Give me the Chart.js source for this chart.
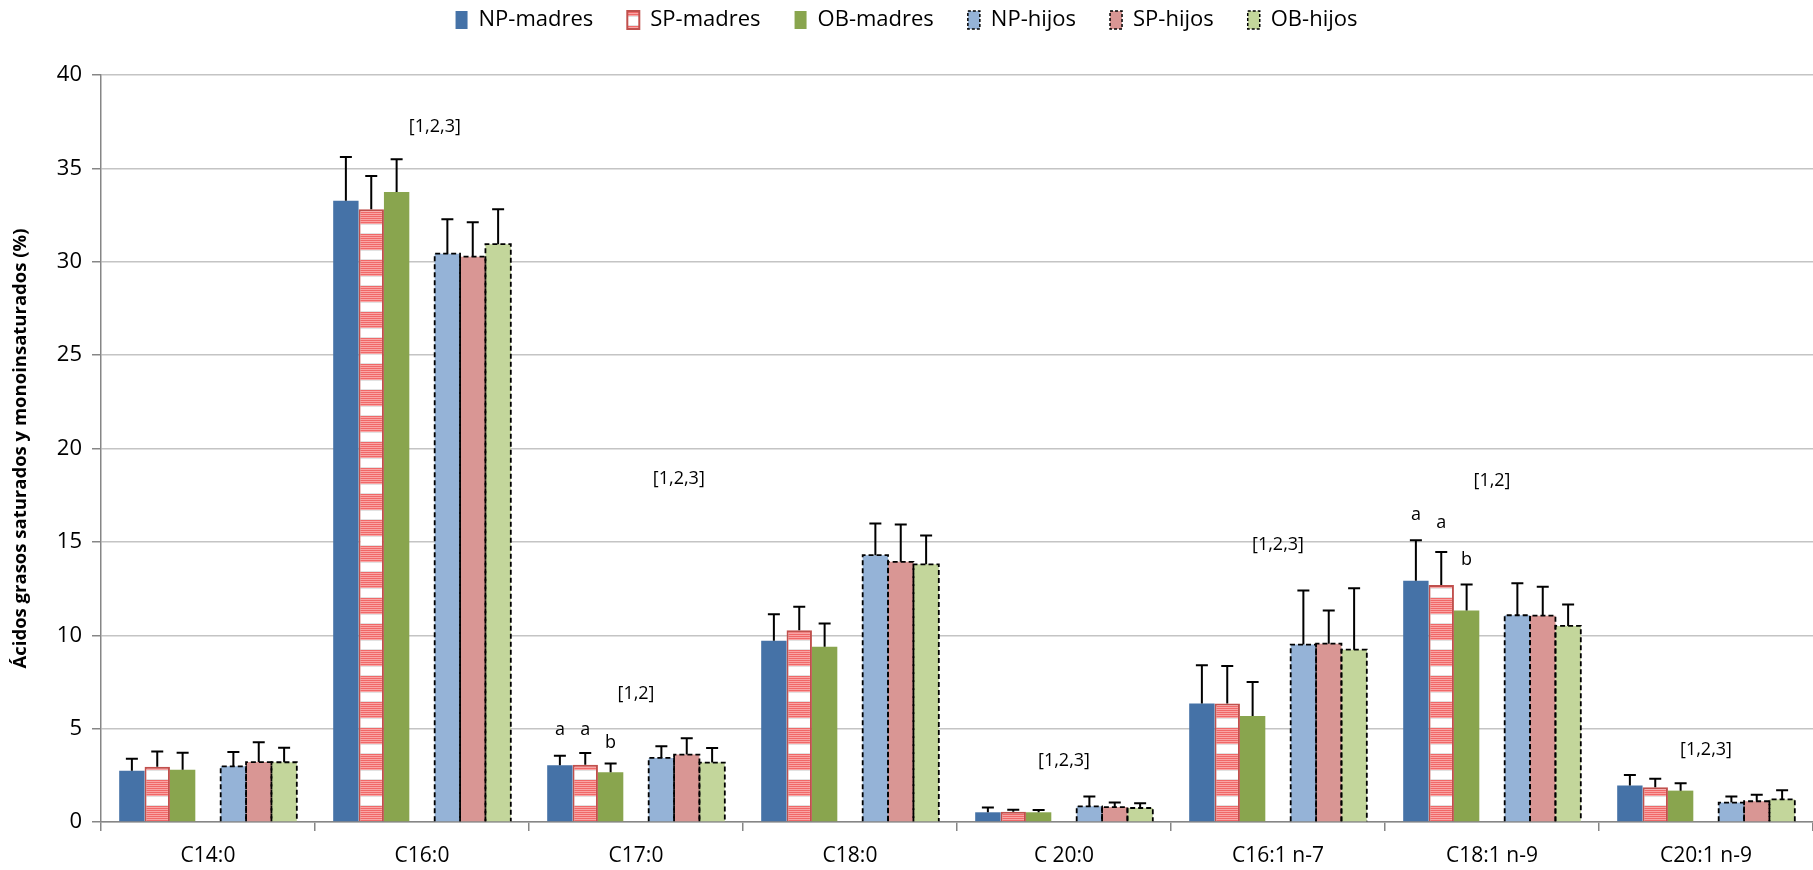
<!DOCTYPE html>
<html>
<head>
<meta charset="utf-8">
<script src="https://cdn.jsdelivr.net/npm/chart.js@4.4.1/dist/chart.umd.min.js"></script>
<style>
    html, body { margin: 0; padding: 0; background: #fff; }
</style>
</head>
<body>
<canvas id="grafikAcidos" width="1813" height="870"></canvas>
<script>
const categories = ['C14:0', 'C16:0', 'C17:0', 'C18:0', 'C 20:0', 'C16:1 n-7', 'C18:1 n-9', 'C20:1 n-9'];

const npMadres = [2.75, 33.26, 3.04, 9.70, 0.52, 6.35, 12.92, 1.95];
const spMadres = [2.96, 32.81, 3.07, 10.27, 0.55, 6.35, 12.69, 1.86];
const obMadres = [2.80, 33.73, 2.66, 9.38, 0.52, 5.67, 11.33, 1.68];
const npHijos = [2.98, 30.43, 3.43, 14.29, 0.84, 9.50, 11.07, 1.04];
const spHijos = [3.21, 30.27, 3.61, 13.93, 0.80, 9.55, 11.05, 1.11];
const obHijos = [3.20, 30.94, 3.18, 13.80, 0.75, 9.23, 10.50, 1.21];

// desviaciones (solo se dibuja la parte superior)
const npMadresSd = [0.64, 2.35, 0.51, 1.43, 0.25, 2.05, 2.17, 0.57];
const spMadresSd = [0.81, 1.78, 0.63, 1.25, 0.11, 2.00, 1.77, 0.46];
const obMadresSd = [0.91, 1.76, 0.47, 1.25, 0.12, 1.82, 1.39, 0.39];
const npHijosSd = [0.77, 1.84, 0.62, 1.69, 0.52, 2.90, 1.72, 0.32];
const spHijosSd = [1.06, 1.84, 0.87, 2.00, 0.25, 1.78, 1.55, 0.35];
const obHijosSd = [0.78, 1.87, 0.78, 1.54, 0.25, 3.29, 1.15, 0.49];

const yTicks = [0, 5, 10, 15, 20, 25, 30, 35, 40];

// notas de significacion
const noteTexts = ['[1,2,3]', '[1,2]', '[1,2,3]', '[1,2,3]', '[1,2,3]', '[1,2]', '[1,2,3]'];
const noteCats = [1.06, 2.0, 2.2, 4.0, 5.0, 6.0, 7.0];
const noteValues = [37.2, 6.85, 18.4, 3.27, 14.86, 18.24, 3.84];

const letterTexts = ['a', 'a', 'b', 'a', 'a', 'b'];
const letterCats = [2, 2, 2, 6, 6, 6];
const letterSeries = [0, 1, 2, 0, 1, 2];
const letterValues = [4.91, 4.93, 4.26, 16.42, 16.01, 14.02];

const FONT = "'Open Sans', 'DejaVu Sans', sans-serif";

const canvas = document.getElementById('grafikAcidos');
const ctx = canvas.getContext('2d');

function makeStripes() {
    const c = document.createElement('canvas');
    c.width = 8;
    c.height = 26;
    const g = c.getContext('2d');
    g.fillStyle = '#ffffff';
    g.fillRect(0, 0, 8, 26);
    for (let r = 0; r < 16; r++) {
        g.fillStyle = r % 2 ? '#F9A5A5' : '#F06868';
        g.fillRect(0, r, 8, 1);
    }
    g.fillStyle = '#E2E2E2';
    g.fillRect(0, 16, 8, 1);
    g.fillRect(0, 25, 8, 1);
    return ctx.createPattern(c, 'repeat');
}
const stripes = makeStripes();

const errorBars = {
    id: 'errorBars',
    afterDatasetsDraw(chart) {
        const c = chart.ctx;
        const yScale = chart.scales.y;
        c.save();
        // bordes discontinuos de hijos
        c.strokeStyle = '#000';
        c.lineWidth = 1.8;
        c.setLineDash([5, 3]);
        chart.data.datasets.forEach((ds, i) => {
            if (!ds.dashed) return;
            chart.getDatasetMeta(i).data.forEach(bar => {
                const p = bar.getProps(['x', 'y', 'base', 'width'], true);
                const l = p.x - p.width / 2, r = p.x + p.width / 2;
                c.beginPath();
                c.moveTo(l, p.base);
                c.lineTo(l, p.y);
                c.lineTo(r, p.y);
                c.lineTo(r, p.base);
                c.stroke();
            });
        });
        // barras de error
        c.setLineDash([]);
        c.lineWidth = 2;
        chart.data.datasets.forEach((ds, i) => {
            if (!ds.sd) return;
            chart.getDatasetMeta(i).data.forEach((bar, j) => {
                const p = bar.getProps(['x', 'y'], true);
                const top = yScale.getPixelForValue(ds.data[j] + ds.sd[j]);
                c.beginPath();
                c.moveTo(p.x, p.y);
                c.lineTo(p.x, top);
                c.moveTo(p.x - 6, top);
                c.lineTo(p.x + 6, top);
                c.stroke();
            });
        });
        c.restore();
    }
};

const notes = {
    id: 'notes',
    afterDatasetsDraw(chart) {
        const c = chart.ctx;
        const xScale = chart.scales.x;
        const yScale = chart.scales.y;
        c.save();
        c.fillStyle = '#000';
        c.font = '18px ' + FONT;
        c.textAlign = 'center';
        c.textBaseline = 'middle';
        noteTexts.forEach((t, i) => {
            c.fillText(t, xScale.getPixelForValue(noteCats[i]), yScale.getPixelForValue(noteValues[i]));
        });
        letterTexts.forEach((t, i) => {
            const bar = chart.getDatasetMeta(letterSeries[i]).data[letterCats[i]];
            c.fillText(t, bar.x, yScale.getPixelForValue(letterValues[i]));
        });
        c.restore();
    }
};

const legendBox = {
    id: 'legendBox',
    beforeLayout(chart) {
        const lg = chart.legend;
        if (lg && !lg._wrapped) {
            const fit = lg.fit;
            lg.fit = function () {
                fit.call(this);
                this.height = 75;
            };
            lg._wrapped = true;
        }
    },
    afterLayout(chart) {
        const lg = chart.legend;
        lg.top = 20 - lg.options.labels.padding - 11;
    }
};

function serie(label, data, sd, color, extra) {
    return Object.assign({
        label: label,
        data: data,
        sd: sd,
        backgroundColor: color,
        borderWidth: 0
    }, extra || {});
}

new Chart(ctx, {
    type: 'bar',
    data: {
        labels: categories,
        datasets: [
            serie('NP-madres', npMadres, npMadresSd, '#4572A7'),
            serie('SP-madres', spMadres, spMadresSd, stripes, { borderColor: '#C0504D', borderWidth: 2 }),
            serie('OB-madres', obMadres, obMadresSd, '#89A54E'),
            { label: '', data: categories.map(() => null), spacer: true, backgroundColor: 'rgba(0,0,0,0)' },
            serie('NP-hijos', npHijos, npHijosSd, '#95B3D7', { dashed: true }),
            serie('SP-hijos', spHijos, spHijosSd, '#D99694', { dashed: true }),
            serie('OB-hijos', obHijos, obHijosSd, '#C3D69B', { dashed: true })
        ]
    },
    options: {
        responsive: false,
        animation: false,
        layout: { padding: 0 },
        datasets: {
            bar: {
                categoryPercentage: 0.83,
                barPercentage: 1.0
            }
        },
        plugins: {
            tooltip: { enabled: false },
            legend: {
                position: 'top',
                labels: {
                    color: '#000',
                    font: { family: FONT, size: 22 },
                    boxWidth: 12,
                    boxHeight: 18,
                    padding: 34,
                    generateLabels(chart) {
                        const items = Chart.defaults.plugins.legend.labels.generateLabels(chart);
                        return items.filter(it => !chart.data.datasets[it.datasetIndex].spacer).map(it => {
                            const ds = chart.data.datasets[it.datasetIndex];
                            if (ds.dashed) {
                                it.strokeStyle = '#000';
                                it.lineWidth = 1.5;
                                it.lineDash = [3, 2];
                            }
                            return it;
                        });
                    }
                }
            }
        },
        scales: {
            x: {
                afterFit: s => { s.height = 48; },
                grid: {
                    drawOnChartArea: false,
                    offset: true,
                    tickLength: 9,
                    color: '#868686',
                    lineWidth: 1.5
                },
                border: { color: '#868686', width: 1.5 },
                ticks: {
                    color: '#000',
                    padding: 12,
                    font: { family: FONT, size: 21 }
                }
            },
            y: {
                min: 0,
                max: 40,
                afterFit: s => { s.width = 101; },
                afterBuildTicks: s => { s.ticks = yTicks.map(v => ({ value: v })); },
                grid: {
                    color: '#C4C4C4',
                    lineWidth: 1.5,
                    tickLength: 9,
                    tickColor: '#868686'
                },
                border: { color: '#868686', width: 1.5 },
                ticks: {
                    color: '#000',
                    padding: 10,
                    font: { family: FONT, size: 22 }
                },
                title: {
                    display: true,
                    text: 'Ácidos grasos saturados y monoinsaturados (%)',
                    color: '#000',
                    font: { family: FONT, size: 18.5, weight: 'bold' },
                    padding: { top: 10, bottom: 0 }
                }
            }
        }
    },
    plugins: [legendBox, errorBars, notes]
});
</script>
</body>
</html>
